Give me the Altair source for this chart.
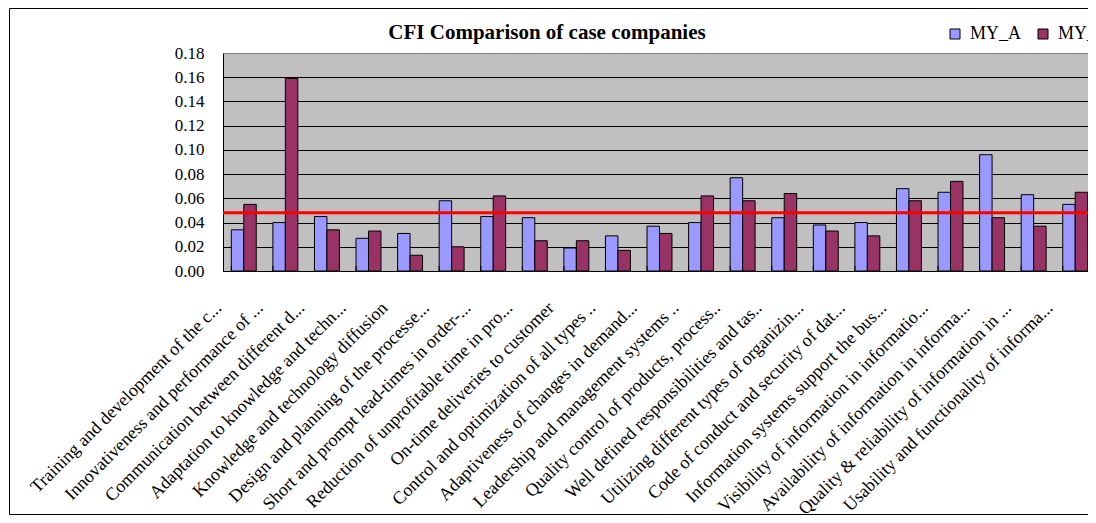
import altair as alt
import pandas as pd

categories = [
    "Training and development of the c...",
    "Innovativeness and performance of ...",
    "Communication between  different d...",
    "Adaptation to knowledge and techn...",
    "Knowledge and technology diffusion",
    "Design and planning of the processe...",
    "Short and prompt lead-times in order-...",
    "Reduction of unprofitable time in pro...",
    "On-time deliveries to customer",
    "Control  and optimization of all types ..",
    "Adaptiveness of changes in demand...",
    "Leadership and management systems ..",
    "Quality control of products, process..",
    "Well defined responsibilities and tas..",
    "Utilizing different types of organizin...",
    "Code of conduct and security of dat...",
    "Information systems  support the bus...",
    "Visibility of information in informatio...",
    "Availability of information in informa...",
    "Quality & reliability of information in ...",
    "Usability and functionality of informa...",
]
my_a = [0.034, 0.040, 0.045, 0.027, 0.031, 0.058, 0.045, 0.044, 0.019, 0.029, 0.037,
        0.040, 0.077, 0.044, 0.038, 0.040, 0.068, 0.065, 0.096, 0.063, 0.055]
my_b = [0.055, 0.159, 0.034, 0.033, 0.013, 0.020, 0.062, 0.025, 0.025, 0.017, 0.031,
        0.062, 0.058, 0.064, 0.033, 0.029, 0.058, 0.074, 0.044, 0.037, 0.065]
series = ["MY_A", "MY_B"]
colors = ["#9999FF", "#993366"]
reference_line = [0.048]
y_ticks = [0.0, 0.02, 0.04, 0.06, 0.08, 0.10, 0.12, 0.14, 0.16, 0.18]
title_text = "CFI Comparison of case companies"

rows = []
for c, a, b in zip(categories, my_a, my_b):
    rows.append({"cat": c, "series": "MY_A", "value": a})
    rows.append({"cat": c, "series": "MY_B", "value": b})
df = pd.DataFrame(rows)

FONT = "Liberation Serif"
W, H = 873, 218

xscale = alt.Scale(domain=categories, paddingInner=0.4, paddingOuter=0.2)
yscale = alt.Scale(domain=[0, 0.18], nice=False, zero=True)

x_axis = alt.Axis(title=None, labelAngle=315, labelAlign="right", labelBaseline="middle",
                  labelFont=FONT, labelFontSize=18, labelColor="black",
                  labelPadding=34, labelOffset=-25, labelLimit=0, labelOverlap=False,
                  ticks=False, domainColor="black", domainWidth=1, grid=False)
y_axis = alt.Axis(title=None, values=y_ticks, format=".2f", labelFont=FONT,
                  labelFontSize=17, labelColor="black", labelPadding=19,
                  labelOverlap=False, labelFlush=False, ticks=False,
                  domainColor="black",
                  grid=True, gridOpacity=1, gridWidth=1,
                  gridColor={"condition": {"test": "datum.value >= 0.179", "value": "#808080"},
                             "value": "black"})

bars = alt.Chart(df).mark_bar(stroke="black", strokeWidth=1).encode(
    x=alt.X("cat:N", scale=xscale, sort=None, axis=x_axis),
    xOffset=alt.XOffset("series:N", scale=alt.Scale(domain=series, paddingInner=0, paddingOuter=0)),
    y=alt.Y("value:Q", scale=yscale, axis=y_axis),
    color=alt.Color("series:N", scale=alt.Scale(domain=series, range=colors),
                    legend=alt.Legend(title=None, orient="none", legendX=723, legendY=-28,
                                      direction="horizontal", symbolType="square", symbolSize=100,
                                      symbolStrokeColor="black", symbolStrokeWidth=1,
                                      labelFont=FONT, labelFontSize=18, labelColor="black",
                                      labelOffset=6, columnPadding=12, padding=0)),
)

inner_ticks = alt.Chart(df[df.series == "MY_A"]).mark_rule(color="black", strokeWidth=1).encode(
    x=alt.X("cat:N", scale=xscale, sort=None, bandPosition=0, axis=x_axis),
    y=alt.value(H - 5),
    y2=alt.value(H),
)

ref = alt.Chart(pd.DataFrame({"value": reference_line})).mark_rule(color="#FF0000", strokeWidth=3).encode(
    y=alt.Y("value:Q", scale=yscale, axis=y_axis),
    x=alt.value(0),
    x2=alt.value(W),
)

frame = alt.Chart(pd.DataFrame({"k": [0]})).mark_rect(filled=False, stroke="black", strokeWidth=1).encode(
    x=alt.value(-213.5), x2=alt.value(W + 100), y=alt.value(-44.5), y2=alt.value(461.5)
)

title = alt.Chart(pd.DataFrame({"t": [title_text]})).mark_text(
    font=FONT, fontSize=21, fontWeight="bold", color="black", align="center", baseline="alphabetic"
).encode(text="t:N", x=alt.value(324), y=alt.value(-14))

chart = alt.layer(bars, inner_ticks, ref, frame, title).properties(
    width=W, height=H,
    autosize=alt.AutoSizeParams(type="none"),
    padding={"left": 215, "top": 45, "right": -8, "bottom": 244},
).configure(font=FONT).configure_axis(labelFont=FONT).configure_legend(labelFont=FONT).configure_view(
    fill="#C0C0C0", stroke=None)

chart.save("out.html", embed_options={"renderer": "svg", "actions": False})
